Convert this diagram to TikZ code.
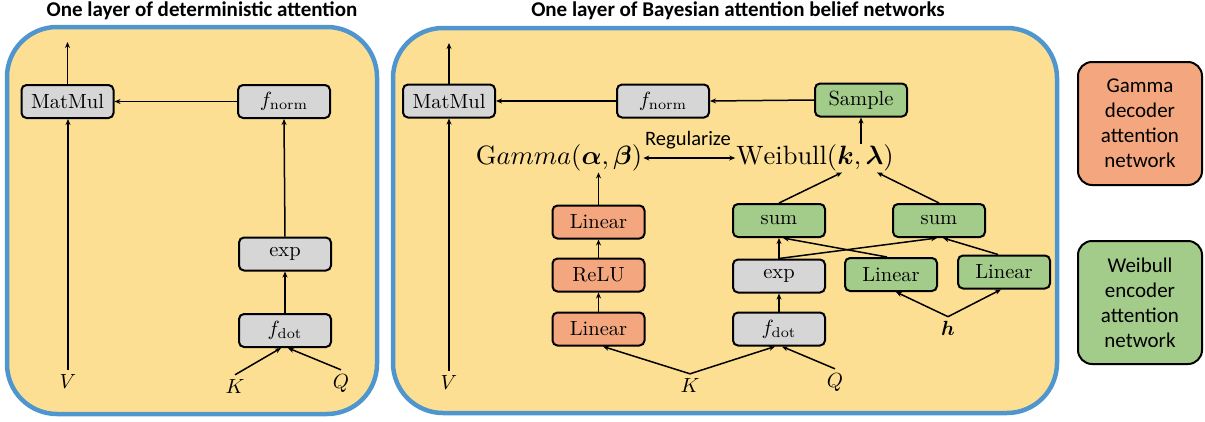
\documentclass[tikz,border=0pt]{standalone}
\usepackage{fontspec}
\usepackage{amsmath,bm}
\usepackage{graphicx}
\newfontfamily\calfont{Carlito}
\newcommand\SB[1]{\scalebox{2.05}{#1}}
\newcommand\SL[1]{\scalebox{2.65}{#1}}
\usetikzlibrary{arrows.meta,calc}
\definecolor{panelfill}{HTML}{FDDF94}
\definecolor{panelblue}{HTML}{4F95CE}
\definecolor{boxgray}{HTML}{D6D6D6}
\definecolor{boxorange}{HTML}{F4A77F}
\definecolor{boxgreen}{HTML}{A3CC8A}
\tikzset{
  panel/.style={draw=panelblue, line width=4.5pt, fill=panelfill, rounded corners=50pt},
  blk/.style={draw=black, line width=2pt, rounded corners=5pt, minimum width=92pt, minimum height=33pt, inner sep=0pt},
  gbox/.style={blk, fill=boxgray},
  obox/.style={blk, fill=boxorange},
  wbox/.style={blk, fill=boxgreen},
  arr/.style={-{Stealth[length=6pt,width=5pt]}, line width=1.5pt},
  darr/.style={{Stealth[length=6pt,width=5pt]}-{Stealth[length=6pt,width=5pt]}, line width=1.5pt},
  lbl/.style={inner sep=4pt},
  big/.style={inner sep=1pt},
  rl/.style={font=\calfont\fontsize{20.5}{24}\selectfont, inner sep=1pt},
  ttl/.style={font=\calfont\bfseries\fontsize{21}{24}\selectfont, inner sep=0pt},
  leg/.style={draw=black, line width=2pt, rounded corners=14pt, minimum width=124pt, minimum height=123pt, align=center, inner sep=0pt, font=\calfont\fontsize{21}{25}\selectfont}
}
\begin{document}
\begin{tikzpicture}[x=1pt,y=-1pt]
\useasboundingbox (0,0) rectangle (1205,421);
% panels
\draw[panel] (7,27) rectangle (377,414);
\draw[panel] (393,28) rectangle (1057,413);
% titles
\node[ttl] (t1) at (202,11) {One layer of deterministic attention};
\node[ttl] (t2) at (738,11) {One layer of Bayesian attention belief networks};
% left panel
\node[gbox] (mmL) at (67.5,101.5) {\SB{MatMul}};
\node[gbox] (fnL) at (284,101.5) {\SB{$f_{\mathrm{norm}}$}};
\node[gbox] (expL) at (285,254) {\SB{exp}};
\node[gbox] (fdL) at (285,330.5) {\SB{$f_{\mathrm{dot}}$}};
\node[lbl] (VL) at (68,381) {\SB{$V$}};
\node[lbl] (KL) at (235,386) {\SB{$K$}};
\node[lbl] (QL) at (341,383) {\SB{$Q$}};
\coordinate (outL) at (65,42);
\draw[arr] (mmL.north) -- (mmL.north |- outL);
\draw[arr] (VL.north) -- (VL.north |- mmL.south);
\draw[arr] (fnL.west) -- (mmL.east);
\draw[arr] (expL.north) -- (fnL.south);
\draw[arr] (fdL.north) -- (expL.south);
\draw[arr] (KL.north) -- ([xshift=-4pt]fdL.south);
\draw[arr] (QL.north) -- ([xshift=3pt]fdL.south);
% right panel
\node[gbox] (mmR) at (449,101) {\SB{MatMul}};
\node[gbox] (fnR) at (663,101) {\SB{$f_{\mathrm{norm}}$}};
\node[wbox] (smp) at (861,100) {\SB{Sample}};
\node[big] (gam) at (559,158) {\SL{$\mathrm{G}amma(\bm{\alpha},\bm{\beta})$}};
\node[big] (wei) at (815,158) {\SL{$\mathrm{Weibull}(\bm{k},\bm{\lambda})$}};
\node[rl] (reg) at (688,140) {Regularize};
\node[obox] (lo1) at (598.5,222) {\SB{Linear}};
\node[obox] (relu) at (598.5,275) {\SB{ReLU}};
\node[obox] (lo2) at (598.5,329) {\SB{Linear}};
\node[wbox] (s1) at (779,220.5) {\SB{sum}};
\node[wbox] (s2) at (939,220.5) {\SB{sum}};
\node[gbox] (expR) at (779,276) {\SB{exp}};
\node[gbox] (fdR) at (779,329) {\SB{$f_{\mathrm{dot}}$}};
\node[wbox] (lg1) at (891,274.5) {\SB{Linear}};
\node[wbox] (lg2) at (1004,272) {\SB{Linear}};
\node[lbl] (hh) at (948,328) {\SB{$\bm{h}$}};
\node[lbl] (VR) at (449,382) {\SB{$V$}};
\node[lbl] (KR) at (690,385) {\SB{$K$}};
\node[lbl] (QR) at (835,382) {\SB{$Q$}};
\coordinate (outR) at (446,43);
\draw[arr] (mmR.north) -- (mmR.north |- outR);
\draw[arr] (VR.north) -- (VR.north |- mmR.south);
\draw[arr] (fnR.west) -- (mmR.east);
\draw[arr] (smp.west) -- (fnR.east);
\draw[arr] (smp.south |- wei.north) -- (smp.south);
\draw[arr] (lo1.north) -- (lo1.north |- gam.south);
\draw[darr] (gam.east) -- (gam.east -| wei.west);
\draw[arr] (relu.north) -- (lo1.south);
\draw[arr] (lo2.north) -- (relu.south);
\draw[arr] (KR.north) -- ([xshift=4.5pt]lo2.south);
\draw[arr] (KR.north) -- ([xshift=-4pt]fdR.south);
\draw[arr] (QR.north) -- ([xshift=3pt]fdR.south);
\draw[arr] (fdR.north) -- (expR.south);
\draw[arr] (expR.north) -- (s1.south);
\draw[arr] (expR.north) -- ([xshift=-2pt]s2.south);
\draw[arr] ([xshift=-4pt]lg1.north) -- ([xshift=4pt]s1.south);
\draw[arr] ([xshift=-6pt]lg2.north) -- ([xshift=4pt]s2.south);
\draw[arr] (s1.north) -- ([xshift=27pt]wei.south);
\draw[arr] (s2.north) -- ([xshift=62pt]wei.south);
\draw[arr] (hh.north) -- ([xshift=5pt]lg1.south);
\draw[arr] (hh.north) -- ([xshift=-3pt]lg2.south);
% legend
\node[leg, fill=boxorange] (lgG) at (1140,123.5) {Gamma\\decoder\\attention\\network};
\node[leg, fill=boxgreen] (lgW) at (1140,302.5) {Weibull\\encoder\\attention\\network};
\end{tikzpicture}
\end{document}
